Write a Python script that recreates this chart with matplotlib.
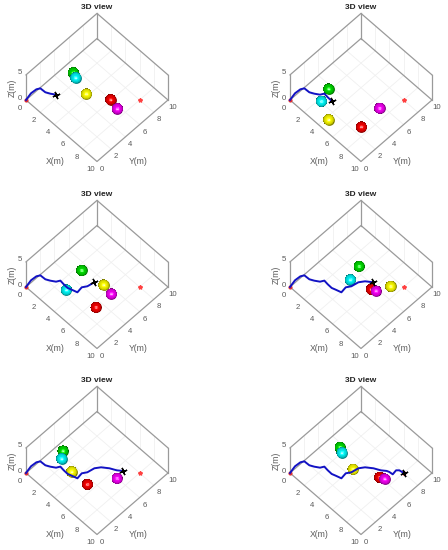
import numpy as np
import matplotlib
matplotlib.use('Agg')
import matplotlib.pyplot as plt
from mpl_toolkits.mplot3d import proj3d

plt.rcParams['font.family'] = ['Liberation Sans', 'DejaVu Sans']

# shared flight path, each panel shows it up to a later point
path_x = [0, 0.01, 0.27, 0.47, 1.14, 1.61, 2.09, 2.31, 2.84, 3.42, 3.84, 4.46, 4.36, 4.67, 4.84,
          5.23, 5.90, 6.58, 7.05, 7.32, 7.75, 7.66, 7.89, 8.49]
path_y = [0, 0.69, 1.19, 1.55, 1.58, 1.82, 2.14, 2.53, 2.47, 2.45, 2.59, 2.78, 3.49, 3.97, 4.79,
          5.34, 5.85, 6.20, 6.57, 6.67, 6.72, 7.28, 7.51, 7.62]
path_z = [0, 0.5, 1, 1, 1, 1, 1, 1, 1, 1, 1, 1, 1, 1, 1, 1, 1, 1, 1, 1, 1, 1, 1, 1]
path_len = [7, 10, 15, 17, 19, 24]

# spheres, one (x, y) per panel, all at z = 2
green = [(1.92, 4.74), (2.64, 2.80), (3.38, 4.46), (4.00, 5.73), (1.63, 3.58), (2.25, 4.80)]
cyan = [(2.50, 4.50), (3.13, 1.29), (3.90, 1.79), (4.47, 4.03), (2.16, 2.86), (2.82, 4.50)]
yellow = [(4.57, 3.92), (5.13, 0.31), (6.12, 4.82), (7.85, 6.33), (3.92, 2.51), (4.95, 3.92)]
red = [(6.75, 5.18), (8.03, 2.02), (7.40, 2.46), (6.73, 4.73), (6.06, 2.59), (7.48, 5.15)]
magenta = [(7.95, 4.91), (7.80, 4.83), (7.39, 4.63), (7.20, 4.92), (7.66, 5.16), (7.97, 5.37)]
sphere_z = 2
sphere_r = 0.5

goal = (8, 8, 0)
ticks_xy = [0, 2, 4, 6, 8, 10]
ticks_z = [0, 5]

# pixel position of the floor origin of each panel
origins = [(26, 100), (290, 100), (26, 287), (290, 287), (26, 473), (290, 473)]

W, H = 448, 550
BOX = '#9a9a9a'
GRID = '#f0f0f0'
TXT = '#5a5a5a'


def to_px(ax, x, y, z):
    xp, yp, _ = proj3d.proj_transform(x, y, z, ax.get_proj())
    return ax.transData.transform((xp, yp))


def label(fig, ax, x, y, z, s, **kw):
    # plain figure text placed at a projected 3D point
    p = to_px(ax, x, y, z)
    fig.text(p[0] / W, p[1] / H, s, ha='center', va='center', **kw)


def sphere(ax, cx, cy, cz, color, zorder):
    u = np.linspace(0, 2 * np.pi, 41)
    v = np.linspace(0, np.pi, 31)
    nx = np.outer(np.cos(u), np.sin(v))
    ny = np.outer(np.sin(u), np.sin(v))
    nz = np.outer(np.ones_like(u), np.cos(v))
    # light sits at the camera
    el = np.radians(60)
    az = np.radians(-45)
    cam = np.array([np.cos(el) * np.cos(az), np.cos(el) * np.sin(az), np.sin(el)])
    d = np.clip(nx * cam[0] + ny * cam[1] + nz * cam[2], 0, 1)
    rgb = np.array(matplotlib.colors.to_rgb(color))
    fc = np.ones(nx.shape + (4,))
    for i in range(3):
        fc[..., i] = np.clip(rgb[i] * (0.5 + 0.6 * d) + 0.7 * d ** 70, 0, 1)
    # round dark disc under the surface keeps the rim smooth
    ax.plot([cx], [cy], [cz], marker='o', ms=7.8, mew=0, color=rgb * 0.6, ls='none', zorder=zorder)
    ax.plot_surface(cx + sphere_r * nx, cy + sphere_r * ny, cz + sphere_r * nz, facecolors=fc,
                    rstride=1, cstride=1, shade=False, linewidth=0, antialiased=False, zorder=zorder + 0.5)


def panel(fig, i):
    ax = fig.add_axes([0, 0, 230 / W, 230 / H], projection='3d', proj_type='ortho', computed_zorder=False)
    ax.view_init(elev=60, azim=-45)
    ax.set_xlim(0, 10, view_margin=0)
    ax.set_ylim(0, 10, view_margin=0)
    ax.set_zlim(0, 5, view_margin=0)
    ax.set_axis_off()
    ax.patch.set_visible(False)

    # scale so the floor diagonal is 142 px, then move the axes onto the origin
    ax.set_box_aspect((10, 10, 5))
    p0 = to_px(ax, 0, 0, 0)
    p1 = to_px(ax, 10, 10, 0)
    ax.set_box_aspect((10, 10, 5), zoom=142 / (p1[0] - p0[0]))
    p0 = to_px(ax, 0, 0, 0)
    ox, oy = origins[i]
    ax.set_position([(ox - p0[0]) / W, (H - oy - p0[1]) / H, 230 / W, 230 / H])

    # grid on floor and back walls
    for t in ticks_xy[1:-1]:
        ax.plot([t, t], [0, 10], [0, 0], color=GRID, lw=0.6, zorder=1)
        ax.plot([0, 10], [t, t], [0, 0], color=GRID, lw=0.6, zorder=1)
        ax.plot([0, 0], [t, t], [0, 5], color=GRID, lw=0.6, zorder=1)
        ax.plot([t, t], [10, 10], [0, 5], color=GRID, lw=0.6, zorder=1)

    # box outline
    ax.plot([0, 10, 10, 0, 0], [0, 0, 10, 10, 0], [0, 0, 0, 0, 0], color=BOX, lw=0.9, zorder=2)
    ax.plot([0, 0, 10], [0, 10, 10], [5, 5, 5], color=BOX, lw=0.9, zorder=2)
    for cx, cy in [(0, 0), (0, 10), (10, 10)]:
        ax.plot([cx, cx], [cy, cy], [0, 5], color=BOX, lw=0.9, zorder=2)

    # tick labels
    for t in ticks_xy:
        label(fig, ax, t + 0.23, -1.08, 0, str(t), fontsize=5.6, color=TXT)
        label(fig, ax, 10.98, t - 0.27, 0, str(t), fontsize=5.6, color=TXT)
    for t in ticks_z:
        label(fig, ax, -0.56, -0.24, t, str(t), fontsize=5.6, color=TXT)
    label(fig, ax, 7.08, -2.9, 0, 'X(m)', fontsize=6.2, color=TXT)
    label(fig, ax, 12.9, 2.87, 0, 'Y(m)', fontsize=6.2, color=TXT)
    label(fig, ax, -0.96, -0.96, 2.5, 'Z(m)', fontsize=6.2, color=TXT, rotation=90)
    label(fig, ax, 0, 10, 6.15, '3D view', fontsize=6, fontweight='bold', color='#222222')

    # spheres, far ones first
    balls = [(green[i], '#00c400'), (cyan[i], '#00dcdc'), (yellow[i], '#e2e200'),
             (red[i], '#dc0000'), (magenta[i], '#dc00dc')]
    balls.sort(key=lambda b: b[0][0] - b[0][1])
    for k, (pos, col) in enumerate(balls):
        sphere(ax, pos[0], pos[1], sphere_z, col, 5 + k)

    # goal, start, path and end of path
    ax.plot([goal[0]], [goal[1]], [goal[2]], marker='*', ms=3, color='#ff4040', ls='none', zorder=3)
    ax.plot([0], [0], [0], marker='o', ms=2, color='#e03030', ls='none', zorder=12)
    n = path_len[i]
    ax.plot(path_x[:n], path_y[:n], path_z[:n], color='#1212c4', lw=1.4, zorder=13)
    ax.plot([path_x[n - 1]], [path_y[n - 1]], [path_z[n - 1]], marker=(4, 2, 20), ms=5.5, mew=1.0,
            color='black', ls='none', zorder=14)


fig = plt.figure(figsize=(W / 100, H / 100), dpi=100)
for i in range(6):
    panel(fig, i)
fig.savefig('out.png', dpi=100)
